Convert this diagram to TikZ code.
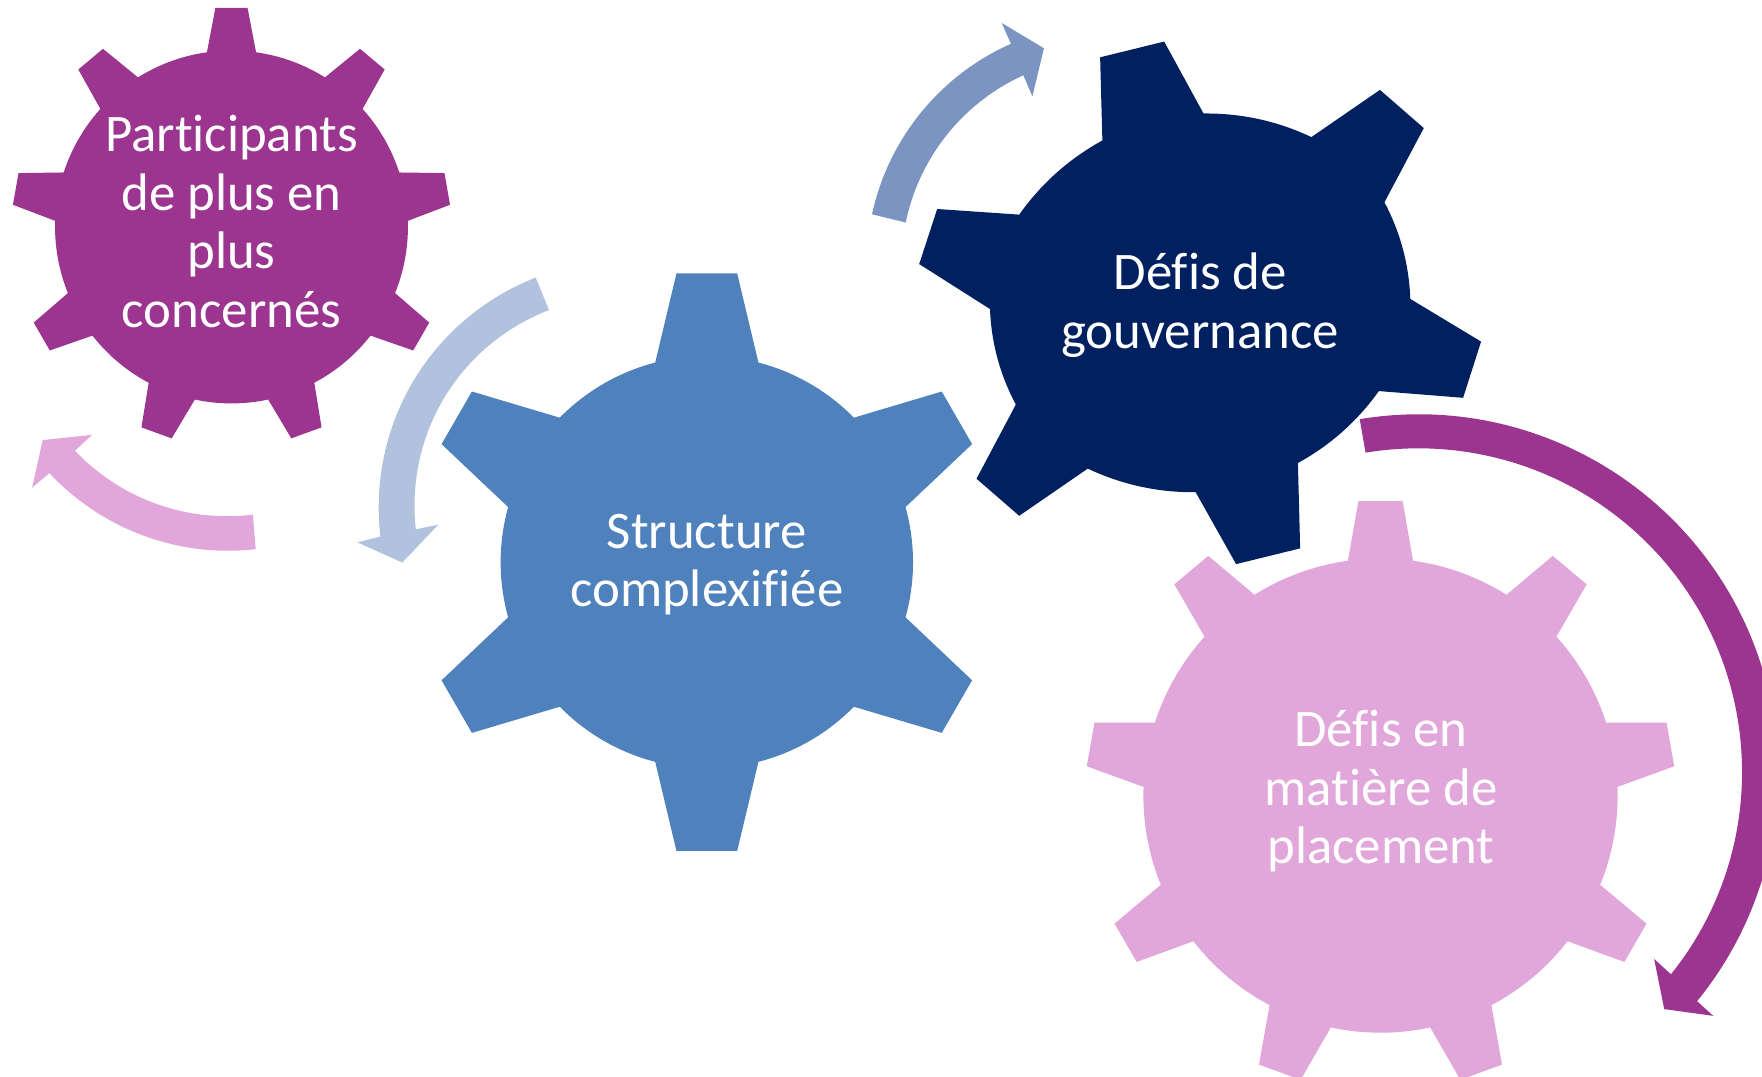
\documentclass[tikz,border=0pt]{standalone}
\usepackage{fontspec}
\setmainfont[RawFeature={-liga}]{Carlito}
\definecolor{gearpurple}{HTML}{9B358F}
\definecolor{gearblue}{HTML}{4F81BD}
\definecolor{gearnavy}{HTML}{002060}
\definecolor{gearpink}{HTML}{E1A7DB}
\definecolor{arrowpale}{HTML}{B0C2DD}
\definecolor{arrowmid}{HTML}{7B94C1}
\tikzset{geartext/.style={text=white,align=center,inner sep=0pt,font=\fontsize{47}{52}\selectfont}}
% colour, cx, cy, root radius, tip radius, base half-angle, tip half-angle, teeth, first angle
\newcommand\gearfill[9]{%
  \fill[#1] ({#2+#4*cos(#9-#6)},{#3+#4*sin(#9-#6)})
  \foreach \k in {1,...,#8}{
    -- ({#2+#5*cos(#9+(\k-1)*360/#8-#7)},{#3+#5*sin(#9+(\k-1)*360/#8-#7)})
    -- ({#2+#5*cos(#9+(\k-1)*360/#8+#7)},{#3+#5*sin(#9+(\k-1)*360/#8+#7)})
    -- ({#2+#4*cos(#9+(\k-1)*360/#8+#6)},{#3+#4*sin(#9+(\k-1)*360/#8+#6)})
    arc[start angle={#9+(\k-1)*360/#8+#6},end angle={#9+\k*360/#8-#6},x radius=#4,y radius=#4]
  } -- cycle;}
\begin{document}
\begin{tikzpicture}[x=1pt,y=-1pt]
\useasboundingbox (0,0) rectangle (1568,957.6);
\clip (0,0) rectangle (1568,957.6);
\gearfill{gearpurple}{206}{202}{157}{195.5}{8}{4.2}{9}{-90}
\gearfill{gearblue}{629}{500.3}{183.5}{258.4}{14.5}{6}{6}{-90}
\gearfill{gearpink}{1228.5}{708}{211}{262.7}{7.9}{4.3}{9}{-90}
\fill[gearnavy] (981,125) -- (979,51) -- (1036,37) -- (1071,101)
  to[bend left=13,looseness=.87] (1167,122) -- (1228,80) -- (1267,114) -- (1232,180)
  to[bend left=13,looseness=.87] (1255,266) -- (1318,304) -- (1302,354) -- (1227,348)
  to[bend left=13,looseness=.87] (1155,412) -- (1157,488) -- (1100,502) -- (1064,438)
  to[bend left=13,looseness=.87] (968,417) -- (907,459) -- (869,426) -- (904,360)
  to[bend left=13,looseness=.87] (881,275) -- (818,235) -- (834,186) -- (907,191)
  to[bend left=13,looseness=.87] cycle;
% curved arrows
\fill[gearpurple] (1210,373) arc[start angle=-99.4,end angle=39.2,x radius=320,y radius=320]
  -- (1524.6,904) -- (1481,898) -- (1472,853.4) -- (1487,867)
  arc[start angle=38.7,end angle=-99.4,x radius=288,y radius=288] -- cycle;
\fill[gearpink] (227.6,488.7) to[bend left=26.8,looseness=.9] (44,421) -- (28.6,434) -- (38,391.6) -- (82,387) -- (66.7,401)
  to[bend right=26.8,looseness=.9] (225,458) -- cycle;
\fill[arrowpale] (476.7,247) to[bend right=37.5,looseness=.96] (338.5,477.5) -- (318,482.6) -- (358,500.6) -- (390,467) -- (370,471)
  to[bend left=37.5,looseness=.96] (488.6,275.9) -- cycle;
\fill[arrowmid] (776,190.7) to[bend left=27,looseness=.9] (899.6,39) -- (891.4,20.4) -- (929,43) -- (918.7,85.8) -- (910.7,67)
  to[bend right=27,looseness=.9] (806,198) -- cycle;
% labels
\node[geartext] (participants) at (206,197) {Participants\\de plus en\\plus\\concernés};
\node[geartext] (structure) at (629,502.5) {Structure\\complexifiée};
\node[geartext] (gouvernance) at (1068,271.5) {Défis de\\gouvernance};
\node[geartext] (placement) at (1229,704) {Défis en\\matière de\\placement};
\end{tikzpicture}
\end{document}
